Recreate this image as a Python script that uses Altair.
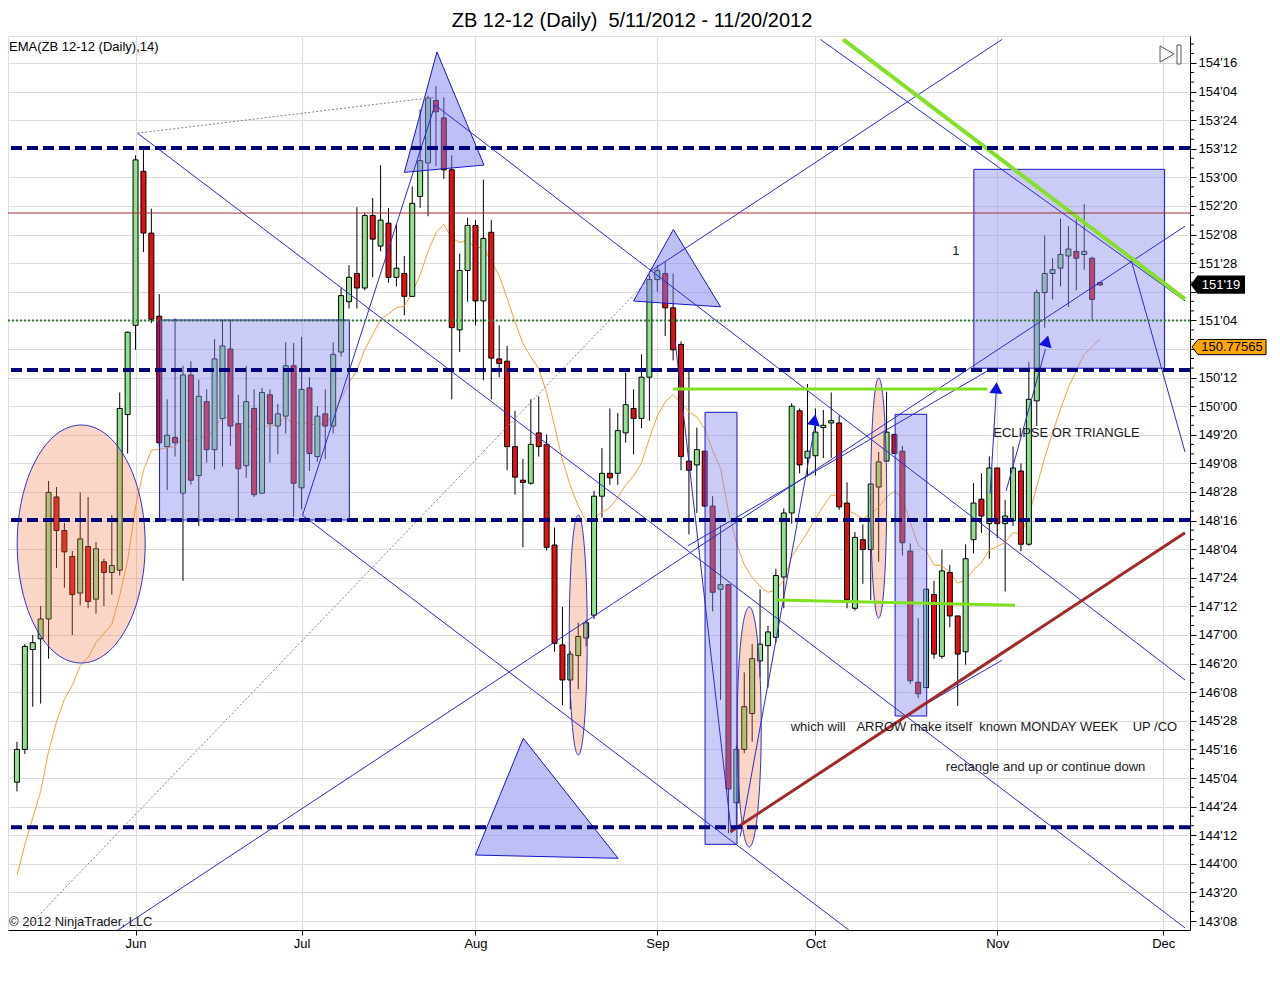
import altair as alt
import pandas as pd

# ---------------- candle data (ZB 12-12 daily, bar index 0 = 5/11/2012) ----------------
opens = [145.07,145.5,146.81,146.95,147.21,148.81,148.37,148.03,147.55,148.16,147.47,147.96,147.82,147.85,149.89,
         151.06,153.08,152.27,151.18,149.47,149.59,148.86,150.41,149.09,150.06,149.43,149.84,150.75,149.77,149.22,
         149.97,148.86,150.15,149.74,149.87,150.53,148.93,150.24,149.34,149.9,149.74,150.71,151.37,151.74,151.55,
         152.5,152.1,152.4,151.69,151.74,151.44,152.75,153.19,154.01,153.78,153.1,151.0,151.78,152.37,151.38,
         152.28,150.62,150.59,149.47,149.03,148.99,149.65,149.5,148.18,146.87,146.41,146.73,146.96,147.26,148.82,
         149.12,149.12,149.65,149.97,149.84,150.38,151.66,151.74,151.29,150.81,149.28,149.23,149.41,148.69,147.6,
         147.66,144.8,145.5,145.97,146.66,146.86,146.97,147.76,148.6,149.94,149.32,149.35,149.72,149.78,149.78,
         148.73,147.35,148.25,148.12,148.94,149.28,149.63,149.41,148.1,146.38,146.31,147.53,146.72,147.82,147.25,
         146.78,148.25,148.78,148.46,149.19,148.46,148.5,149.15,148.19,150.07,151.49,151.74,151.81,151.97,152.03,
         151.99,151.94,151.62]
highs = [145.6,146.88,147.0,147.38,149.02,148.94,148.47,148.1,148.87,148.81,148.22,148.0,148.57,150.18,150.98,
         153.29,153.41,152.59,151.47,150.09,151.15,150.53,150.59,150.35,150.22,150.88,151.13,151.13,150.15,150.53,
         150.22,150.24,150.22,150.03,150.84,150.83,150.91,150.38,150.0,150.22,150.84,151.55,151.85,152.61,152.54,
         152.73,153.16,152.6,152.39,151.97,152.88,153.89,154.07,154.2,154.05,153.29,152.0,152.47,152.44,152.97,
         152.44,151.06,150.79,149.94,149.31,150.09,150.13,149.63,148.41,147.37,146.79,147.16,147.2,148.89,149.45,
         149.97,149.91,150.44,150.22,150.68,151.73,151.85,151.9,151.74,150.85,150.47,149.72,149.41,148.82,148.44,
         147.67,145.55,146.51,146.88,147.6,147.12,147.87,148.66,150.04,149.97,150.29,149.97,149.95,150.18,149.88,
         149.0,148.35,148.45,148.99,149.4,150.19,149.63,149.48,148.2,147.22,147.6,147.71,148.12,147.92,147.25,
         148.19,148.99,149.12,149.34,149.19,148.77,149.47,149.25,150.58,151.53,152.24,151.94,152.46,152.36,152.45,
         152.65,151.96,151.63]
lows = [144.95,145.44,146.06,146.1,146.69,147.88,147.62,147.0,147.39,147.35,147.28,147.38,147.53,147.78,149.38,
        150.74,152.02,151.09,149.47,148.9,149.34,147.71,148.97,148.43,149.26,149.17,149.21,149.48,148.5,149.06,
        148.81,148.86,149.26,149.37,149.64,148.55,148.65,149.15,149.27,149.31,149.64,150.65,151.28,151.28,151.52,
        151.69,152.03,151.62,151.57,151.19,151.44,152.6,152.49,153.15,152.98,150.09,150.71,151.37,151.06,150.34,
        150.09,150.38,149.16,148.84,148.15,148.97,149.34,148.11,146.78,146.08,146.03,146.29,146.85,147.21,148.54,
        148.97,148.97,149.52,149.37,149.71,149.81,151.5,150.92,150.6,149.16,148.32,148.6,148.68,147.31,146.15,
        144.4,144.47,145.45,145.6,146.45,146.31,146.9,147.35,148.46,149.12,149.08,149.09,149.32,149.32,148.64,
        147.35,147.32,147.67,147.46,147.96,149.27,149.38,148.04,146.36,146.17,146.31,146.69,146.69,147.1,146.07,
        146.61,148.07,148.34,148.0,148.27,147.57,148.43,148.1,148.17,149.74,151.03,151.4,151.57,151.3,151.52,
        151.79,151.12,151.58]
closes = [145.5,146.85,146.9,147.21,148.87,148.37,148.09,147.53,148.26,147.44,148.13,147.82,147.91,149.97,150.97,
          153.23,152.27,151.14,149.52,149.62,149.52,150.41,149.03,150.13,149.43,150.62,150.79,149.74,149.18,150.06,
          148.84,150.18,149.77,149.9,150.53,148.99,150.22,149.38,149.87,149.74,150.68,151.45,151.69,151.55,152.5,
          152.19,152.44,151.69,151.81,151.44,152.66,153.22,154.04,153.86,153.1,151.03,151.78,152.37,151.38,152.2,
          150.63,150.56,149.47,149.07,149.0,149.5,149.47,148.15,146.89,146.41,146.75,146.98,147.16,148.82,149.12,
          149.06,149.68,150.02,149.84,150.38,151.66,151.78,151.29,150.74,149.34,149.16,149.43,148.69,147.56,147.66,
          144.98,145.5,146.06,146.69,146.88,147.04,147.78,148.6,150.0,149.23,149.41,149.66,149.75,149.81,148.68,
          147.46,148.28,148.12,148.98,149.27,149.66,149.38,148.21,146.4,146.23,147.6,146.75,147.84,147.25,146.75,
          148.0,148.73,148.56,149.19,148.46,148.56,149.19,148.19,150.09,151.49,151.74,151.79,151.99,152.06,151.94,
          152.03,151.4,151.59]

MONTH_IDX = [15, 36, 58, 81, 101, 124, 145]
MONTH_LBL = ["Jun", "Jul", "Aug", "Sep", "Oct", "Nov", "Dec"]

# price axis: labelled every 12/32, minor ticks every 4/32
Y_LABEL_VALUES = [143.25 + 0.375 * j for j in range(31)]
Y_MINOR_VALUES = [143.25 + 0.125 * j for j in range(93) if j % 3 != 0]
Y_HIDDEN_LABELS = [150.75, 151.5]   # covered by the price markers

EMA_PERIOD = 14
EMA_FIRST = 143.85          # EMA value read at the first bar
LAST_PRICE = 151.59375      # 151'19
LAST_PRICE_TXT = "151'19"
EMA_LAST = 150.77565
EMA_LAST_TXT = "150.77565"

# ---------------- drawing objects (in bar index / price units) ----------------
navy_levels = [153.385, 150.474, 148.508, 144.478]
red_level = [152.533]
green_dotted_level = [151.125]

rects = [(18.04, 42.05, 148.508, 151.13),
         (87.04, 91.08, 144.255, 149.92),
         (111.08, 115.08, 145.938, 149.894),
         (121.04, 145.17, 150.498, 153.106)]

# triangles: (left vertex, apex, right vertex)
triangles = [((49.0, 153.066), (53.125, 154.644), (59.08, 153.162)),
             ((78.0, 151.379), (83.03, 152.317), (89.0, 151.303)),
             ((57.99, 144.115), (64.05, 145.645), (76.04, 144.072))]

ellipse_centers = [(8.125, 148.193), (71.0, 146.999), (92.625, 145.794), (109.0, 148.796)]
ellipse_px = [(128, 238), (18, 240), (24, 240), (16, 240)]

blue_lines = [(15.25, 153.58, 147.75, 143.16),
              (52.875, 153.95, 147.75, 146.41),
              (36.125, 148.57, 105.25, 143.13),
              (36.125, 148.57, 52.875, 153.95),
              (12.75, 143.13, 147.75, 152.36),
              (84.875, 148.17, 123.375, 150.5),
              (80.0, 151.76, 124.625, 154.81),
              (101.625, 154.81, 147.75, 151.38),
              (83.25, 150.855, 90.375, 144.40),
              (91.5, 144.36, 100.95, 149.75),
              (140.875, 151.94, 147.75, 149.4),
              (111.875, 145.91, 124.625, 146.67),
              (123.1, 148.85, 123.875, 150.2),
              (125.125, 148.89, 130.1, 150.75)]
gray_lines = [(15.25, 153.58, 52.75, 154.05),
              (1.25, 143.16, 81.25, 151.81)]
green_thick = [(104.5, 154.81, 147.75, 151.405)]
green_h = [(83.0, 150.225, 122.75, 150.225),
           (96.0, 147.46, 126.25, 147.39)]
red_thick = [(90.25, 144.42, 147.75, 148.34)]

arrow_heads = [(123.875, 150.24), (130.25, 150.855), (100.875, 149.82)]
arrow_angles = [4, 15, 10]

NB = "\u00a0"
notes_txt = ["1", "ECLIPSE OR TRIANGLE",
             "which will " + NB * 2 + "ARROW make itself " + NB + "known MONDAY WEEK " + NB * 3 + "UP /CO",
             "rectangle and up or continue down"]
notes_x = [118.75, 123.5, 97.875, 117.5]
notes_y = [152.03, 149.648, 145.794, 145.269]
notes_align = ["center", "left", "left", "left"]

TITLE = "ZB 12-12 (Daily) " + NB + "5/11/2012 - 11/20/2012"
EMA_TXT = "EMA(ZB 12-12 (Daily),14)"
COPY_TXT = "\u00a9 2012 NinjaTrader, LLC"

# ---------------- build tables ----------------
ema = [EMA_FIRST]
k = 2.0 / (EMA_PERIOD + 1)
for c in closes[1:]:
    ema.append(ema[-1] + k * (c - ema[-1]))

bars = pd.DataFrame({"i": list(range(len(closes))), "open": opens, "high": highs,
                     "low": lows, "close": closes, "ema": ema})
bars["dir"] = ["up" if c >= o else "down" for o, c in zip(opens, closes)]

W, H = 1182, 894
FONT = "Liberation Sans"
xs = alt.Scale(domain=[-0.5, 147.75], nice=False, zero=False)
ys = alt.Scale(domain=[143.132, 154.854], nice=False, zero=False)

FR = "round((datum.value - floor(datum.value)) * 32)"
hidden = " || ".join("datum.value == %s" % v for v in Y_HIDDEN_LABELS)
ylabel = "(" + hidden + ") ? '' : (floor(datum.value) + \"'\" + (" + FR + " < 10 ? '0' : '') + " + FR + ")"
xlabel = ""
for v, l in zip(MONTH_IDX, MONTH_LBL):
    xlabel += "datum.value == %d ? '%s' : " % (v, l)
xlabel += "''"

xaxis = alt.Axis(values=MONTH_IDX, labelExpr=xlabel, title=None, orient="bottom",
                 tickSize=5, tickColor="black", domainColor="black", gridColor="#dcdcdc",
                 labelFont=FONT, labelFontSize=13, labelColor="black", labelPadding=2,
                 labelFlush=False, labelOverlap=False)
yaxis = alt.Axis(values=Y_LABEL_VALUES, labelExpr=ylabel, title=None, orient="right",
                 tickSize=6, tickColor="black", domainColor="black", gridColor="#dcdcdc",
                 labelFont=FONT, labelFontSize=13, labelColor="black", labelPadding=2,
                 labelFlush=False, labelOverlap=False, labelBound=False)


def X(f):
    return alt.X(f, scale=xs, axis=xaxis)


def Y(f):
    return alt.Y(f, scale=ys, axis=yaxis)


base = alt.Chart(bars)
wicks = base.mark_rule(color="black", strokeWidth=1).encode(x=X("i:Q"), y=Y("low:Q"), y2="high:Q")
ema_line = base.mark_line(color="#f2a33a", strokeWidth=1).encode(x=X("i:Q"), y=Y("ema:Q"))
bodies = base.mark_bar(size=5, stroke="black", strokeWidth=1).encode(
    x=X("i:Q"), y=Y("open:Q"), y2="close:Q",
    color=alt.Color("dir:N", scale=alt.Scale(domain=["up", "down"], range=["#90e090", "#e01010"]), legend=None))

layers = [wicks, ema_line, bodies]

# minor ticks on the price axis
minor_df = pd.DataFrame({"v": Y_MINOR_VALUES})
layers.append(alt.Chart(minor_df).mark_rule(color="black", strokeWidth=1).encode(
    y=Y("v:Q"), x=alt.value(W), x2=alt.value(W + 4)))

rect_df = pd.DataFrame(rects, columns=["x0", "x1", "y0", "y1"])
layers.append(alt.Chart(rect_df).mark_rect(fill="#8c8cf0", fillOpacity=0.45, stroke="#1515c8", strokeWidth=1, clip=True).encode(
    x=X("x0:Q"), x2="x1:Q", y=Y("y0:Q"), y2="y1:Q"))

tri_rows = []
for t, (a, p, b) in enumerate(triangles):
    base_at_apex = a[1] + (b[1] - a[1]) * (p[0] - a[0]) / (b[0] - a[0])
    tri_rows += [(t, a[0], a[1], a[1]), (t, p[0], p[1], base_at_apex), (t, b[0], b[1], b[1])]
tri_df = pd.DataFrame(tri_rows, columns=["t", "x", "top", "bot"])
layers.append(alt.Chart(tri_df).mark_area(fill="#8080f0", fillOpacity=0.5, stroke="#1515c8", strokeWidth=1, clip=True).encode(
    x=X("x:Q"), y=Y("top:Q"), y2="bot:Q", detail="t:N"))

for (cx, cy), (w, h) in zip(ellipse_centers, ellipse_px):
    r = w / h
    path = "M %.4f 0 A %.4f 1 0 1 0 %.4f 0 A %.4f 1 0 1 0 %.4f 0 Z" % (-r, r, r, r, -r)
    edf = pd.DataFrame({"x": [cx], "y": [cy]})
    layers.append(alt.Chart(edf).mark_point(shape=path, size=h * h, filled=True, fill="#f08050", fillOpacity=0.32,
                                            stroke="#3030c8", strokeWidth=1, strokeOpacity=1, opacity=1).encode(
        x=X("x:Q"), y=Y("y:Q")))


def seg_layer(segs, **kw):
    df = pd.DataFrame(segs, columns=["x0", "y0", "x1", "y1"])
    return alt.Chart(df).mark_rule(clip=True, **kw).encode(
        x=X("x0:Q"), x2="x1:Q", y=Y("y0:Q"), y2="y1:Q")


layers.append(seg_layer(gray_lines, color="#808080", strokeWidth=1, strokeDash=[2, 2]))
layers.append(seg_layer(blue_lines, color="#2a2ad2", strokeWidth=1))
layers.append(seg_layer(green_h, color="#80e020", strokeWidth=3))
layers.append(seg_layer(green_thick, color="#86e02a", strokeWidth=4))
layers.append(seg_layer(red_thick, color="#a02a2a", strokeWidth=3))

for (ax, ay), ang in zip(arrow_heads, arrow_angles):
    adf = pd.DataFrame({"x": [ax], "y": [ay]})
    layers.append(alt.Chart(adf).mark_point(shape="triangle-up", size=170, filled=True, color="#1010e0",
                                            opacity=1, angle=ang).encode(x=X("x:Q"), y=Y("y:Q")))


def hline(vals, **kw):
    return alt.Chart(pd.DataFrame({"v": vals})).mark_rule(**kw).encode(y=Y("v:Q"))


layers.append(hline(red_level, color="#a03030", strokeWidth=1))
layers.append(hline(green_dotted_level, color="#2e7d32", strokeWidth=2, strokeDash=[2, 2]))
layers.append(hline(navy_levels, color="#00007a", strokeWidth=4, strokeDash=[11, 5]))

notes = pd.DataFrame({"t": notes_txt, "x": notes_x, "y": notes_y, "a": notes_align})
for al in ["left", "center"]:
    layers.append(alt.Chart(notes[notes.a == al]).mark_text(align=al, baseline="middle", font=FONT, fontSize=13,
                                                             color="#1a1a1a", clip=True).encode(
        x=X("x:Q"), y=Y("y:Q"), text="t:N"))


def fixed_text(txt, x, y, **kw):
    return alt.Chart(pd.DataFrame({"t": [txt]})).mark_text(font=FONT, **kw).encode(
        text="t:N", x=alt.value(x), y=alt.value(y))


layers.append(fixed_text(TITLE, 624, -9.5, fontSize=20, align="center", baseline="alphabetic", color="black"))
layers.append(fixed_text(EMA_TXT, 1, 11, fontSize=13, align="left", baseline="middle", color="black"))
layers.append(fixed_text(COPY_TXT, 1, 886, fontSize=13, align="left", baseline="middle", color="#202020"))

# "go to end" button
btn = pd.DataFrame({"a": [0]})
layers.append(alt.Chart(btn).mark_point(shape="triangle-right", size=260, filled=True, fill="white",
                                        stroke="#555555", strokeWidth=1, opacity=1).encode(
    x=alt.value(1159), y=alt.value(18)))
layers.append(alt.Chart(btn).mark_rect(fill="white", stroke="#555555", strokeWidth=1).encode(
    x=alt.value(1169), x2=alt.value(1173), y=alt.value(9), y2=alt.value(28)))

# price markers on the axis
black_path = "M -1 0 L -0.77 -0.31 L 1 -0.31 L 1 0.31 L -0.77 0.31 Z"
orange_path = "M -1 0 L -0.838 -0.205 L 1 -0.205 L 1 0.205 L -0.838 0.205 Z"
pm1 = pd.DataFrame({"y": [LAST_PRICE], "t": [LAST_PRICE_TXT]})
pm2 = pd.DataFrame({"y": [EMA_LAST], "t": [EMA_LAST_TXT]})
layers.append(alt.Chart(pm1).mark_point(shape=black_path, size=52 * 52, filled=True, fill="black",
                                        stroke="black", opacity=1).encode(
    x=alt.value(W + 28), y=Y("y:Q")))
layers.append(alt.Chart(pm1).mark_text(font=FONT, fontSize=13, color="white", align="center", baseline="middle").encode(
    x=alt.value(W + 31), y=Y("y:Q"), text="t:N"))
layers.append(alt.Chart(pm2).mark_point(shape=orange_path, size=74 * 74, filled=True, fill="#ffa500",
                                        stroke="black", strokeWidth=1, opacity=1).encode(
    x=alt.value(W + 39), y=Y("y:Q")))
layers.append(alt.Chart(pm2).mark_text(font=FONT, fontSize=13, color="black", align="center", baseline="middle").encode(
    x=alt.value(W + 42), y=Y("y:Q"), text="t:N"))

chart = alt.layer(*layers).properties(
    width=W, height=H,
    padding={"left": 0, "top": 28, "right": 82, "bottom": 30},
    autosize=alt.AutoSizeParams(type="none"),
).configure_view(stroke="black", strokeWidth=1).configure(background="white")

chart.save("out.html", embed_options={"renderer": "svg", "actions": False})
